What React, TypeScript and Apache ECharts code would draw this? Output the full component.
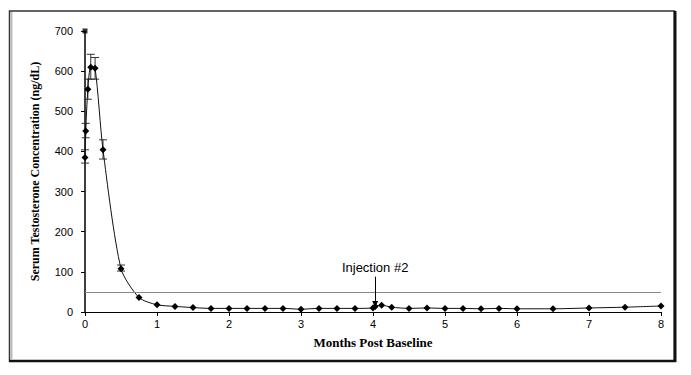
import React, { useEffect, useRef } from "react";
import * as echarts from "echarts";

const months = [0, 0.01, 0.04, 0.08, 0.14, 0.25, 0.5, 0.75, 1, 1.25, 1.5, 1.75, 2, 2.25, 2.5, 2.75, 3, 3.25, 3.5, 3.75, 4, 4.03, 4.12, 4.26, 4.5, 4.75, 5, 5.25, 5.5, 5.75, 6, 6.5, 7, 7.5, 8];
const testosterone = [385, 451, 555, 610, 607, 404, 108, 36, 18, 14, 11, 9, 9, 9, 9, 9, 7, 9, 9, 9, 10, 14, 17, 12, 9, 10, 9, 9, 8, 9, 8, 8, 10, 12, 15];

const errMonths = [0, 0.01, 0.04, 0.08, 0.14, 0.25, 0.5];
const errLow = [371, 434, 530, 580, 580, 381, 102];
const errHigh = [404, 470, 580, 642, 634, 429, 117];

const yTicks = [0, 100, 200, 300, 400, 500, 600, 700];
const xTicks = [0, 1, 2, 3, 4, 5, 6, 7, 8];
const castrateLevel = 50;
const injection = { month: 4.03, from: 88, to: 20, label: "Injection #2" };
const axisEndMarker = [[0, 700]];

export default function App() {
  const ref = useRef<HTMLDivElement>(null);
  useEffect(() => {
    const chart = echarts.init(ref.current!, null, { renderer: "svg" });
    const lineData = months.map((m, i) => [m, testosterone[i]]);
    const errData = errMonths.map((m, i) => [m, errLow[i], errHigh[i]]);
    chart.setOption({
      animation: false,
      backgroundColor: "#fff",
      grid: { left: 85, right: 30, top: 31, bottom: 63, containLabel: false },
      graphic: [
        { type: "rect", shape: { x: 9.5, y: 11, width: 665, height: 350 }, style: { fill: "none", stroke: "#333", lineWidth: 1.5 } },
        { type: "line", shape: { x1: 675, y1: 11, x2: 675, y2: 362 }, style: { stroke: "#111", lineWidth: 3 } },
        { type: "line", shape: { x1: 9, y1: 361, x2: 676, y2: 361 }, style: { stroke: "#111", lineWidth: 2.5 } },
        { type: "line", shape: { x1: 11.5, y1: 12, x2: 11.5, y2: 360 }, style: { stroke: "#bbb", lineWidth: 2 } },
      ],
      xAxis: {
        type: "value",
        min: 0,
        max: 8,
        interval: 1,
        name: "Months Post Baseline",
        nameLocation: "middle",
        nameGap: 24,
        nameTextStyle: { fontFamily: "Liberation Serif", fontWeight: "bold", fontSize: 13, color: "#000" },
        axisLine: { lineStyle: { color: "#000", width: 1 } },
        axisTick: { show: true, length: 4, lineStyle: { color: "#000" } },
        axisLabel: { fontFamily: "Liberation Sans", fontSize: 11, color: "#000", margin: 6, formatter: (v: number) => String(xTicks[v] ?? v) },
        splitLine: { show: false },
      },
      yAxis: {
        type: "value",
        min: 0,
        max: 700,
        interval: 100,
        name: "Serum Testosterone Concentration (ng/dL)",
        nameLocation: "middle",
        nameGap: 44,
        nameTextStyle: { fontFamily: "Liberation Serif", fontWeight: "bold", fontSize: 12, color: "#000" },
        axisLine: { show: true, lineStyle: { color: "#000", width: 1.5 } },
        axisTick: { show: true, length: 4, lineStyle: { color: "#000" } },
        axisLabel: { fontFamily: "Liberation Sans", fontSize: 11, color: "#000", margin: 12, formatter: (v: number) => String(yTicks[v / 100] ?? v) },
        splitLine: { show: false },
      },
      series: [
        {
          type: "line",
          data: lineData,
          smooth: 0.25,
          symbol: "diamond",
          symbolSize: 7,
          lineStyle: { color: "#111", width: 1 },
          itemStyle: { color: "#000" },
          markLine: {
            silent: true,
            symbol: ["none", "none"],
            data: [
              [
                { coord: [0, castrateLevel] },
                { coord: [8, castrateLevel] },
              ],
              [
                { coord: [injection.month, injection.from], symbol: "none", label: { show: true, position: "start", formatter: injection.label, fontFamily: "Liberation Sans", fontSize: 13, color: "#000", distance: 3 }, lineStyle: { color: "#000", width: 1, type: "solid" } },
                { coord: [injection.month, injection.to], symbol: "triangle", symbolSize: [6, 6], symbolRotate: 180 },
              ],
            ],
            lineStyle: { color: "#888", width: 1, type: "solid" },
            label: { show: false },
          },
          z: 3,
        },
        {
          type: "custom",
          data: errData,
          renderItem: (params: any, api: any) => {
            const x = api.value(0);
            const p1 = api.coord([x, api.value(2)]);
            const p2 = api.coord([x, api.value(1)]);
            const w = 4;
            const style = { stroke: "#333", lineWidth: 1 };
            return {
              type: "group",
              children: [
                { type: "line", shape: { x1: p1[0], y1: p1[1], x2: p2[0], y2: p2[1] }, style },
                { type: "line", shape: { x1: p1[0] - w, y1: p1[1], x2: p1[0] + w, y2: p1[1] }, style },
                { type: "line", shape: { x1: p2[0] - w, y1: p2[1], x2: p2[0] + w, y2: p2[1] }, style },
              ],
            };
          },
          z: 2,
        },
        {
          type: "scatter",
          data: axisEndMarker,
          symbol: "rect",
          symbolSize: 5,
          itemStyle: { color: "#000" },
          z: 4,
        },
      ],
    });
    return () => chart.dispose();
  }, []);
  return <div ref={ref} style={{ position: "fixed", left: 0, top: 0, width: 691, height: 375 }} />;
}
